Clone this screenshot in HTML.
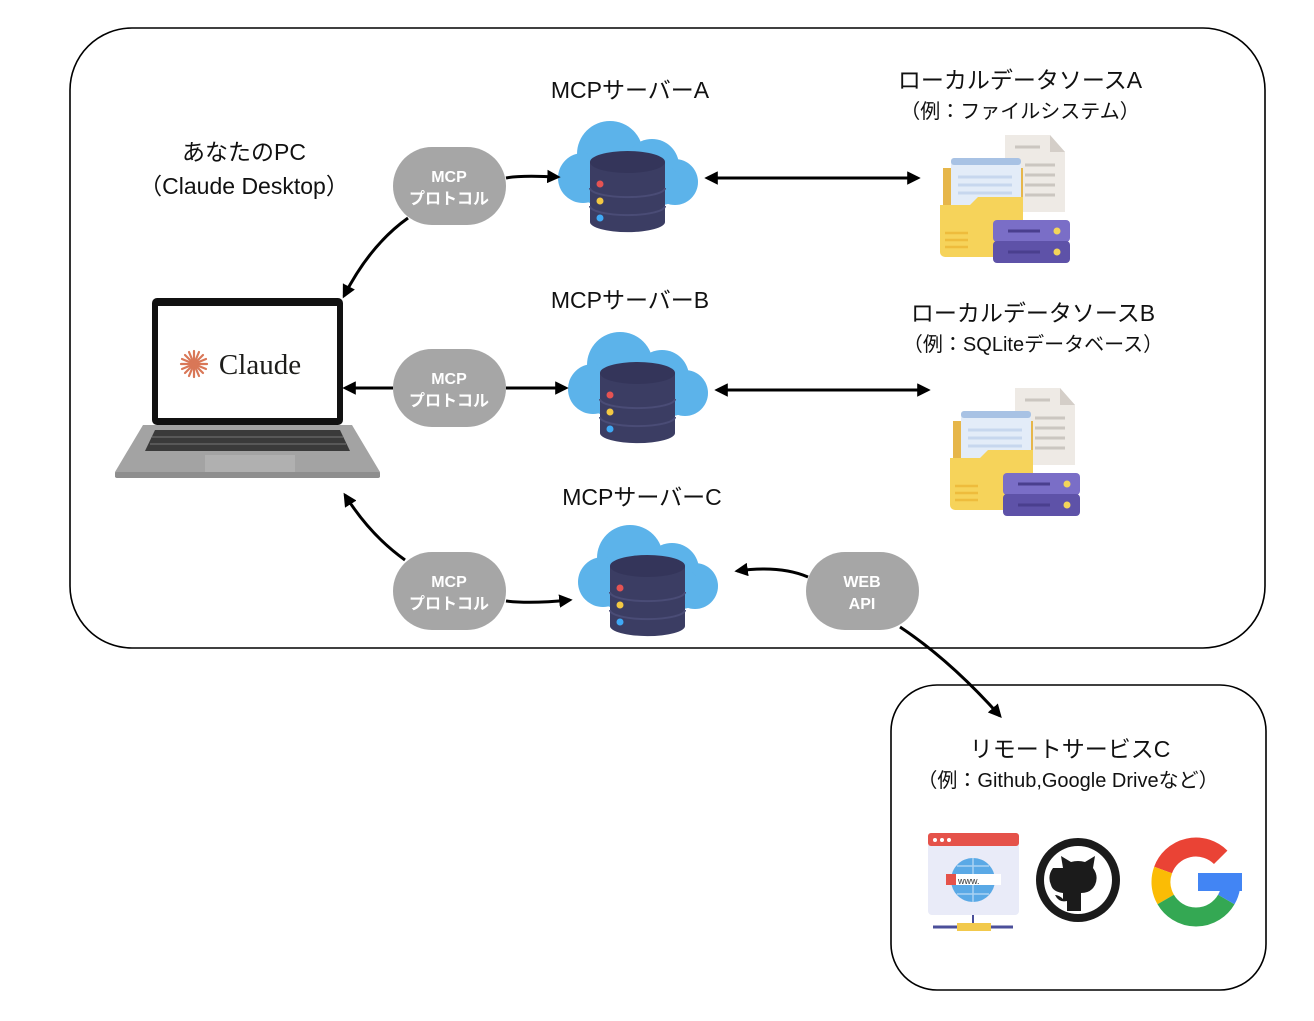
<!DOCTYPE html>
<html><head><meta charset="utf-8"><style>
body{margin:0;background:#fff}
text{font-family:"Liberation Sans","Noto Sans CJK JP",sans-serif}
</style></head><body>
<svg width="1314" height="1016" viewBox="0 0 1314 1016" xmlns="http://www.w3.org/2000/svg">
<defs>
<marker id="ah" viewBox="0 0 10 10" refX="8" refY="5" markerWidth="4.5" markerHeight="4.5" orient="auto-start-reverse"><path d="M0,0 L10,5 L0,10 z" fill="#000"/></marker>
<g id="srv">
<g fill="#5cb3ea">
<circle cx="52" cy="34" r="33"/><circle cx="94" cy="46" r="27"/><circle cx="25" cy="58" r="25"/><circle cx="117" cy="62" r="23"/><rect x="22" y="45" width="100" height="40" rx="18"/>
</g>
<path d="M32,42 v60 a37,10 0 0 0 75,0 v-60 z" fill="#3b3d63"/>
<ellipse cx="69.5" cy="42" rx="37.5" ry="11" fill="#34355a"/>
<path d="M32,68 a37,9 0 0 0 75,0 M32,86 a37,9 0 0 0 75,0" stroke="#4a4c76" stroke-width="2" fill="none"/>
<circle cx="42" cy="64" r="3.5" fill="#e55353"/><circle cx="42" cy="81" r="3.5" fill="#f3c843"/><circle cx="42" cy="98" r="3.5" fill="#3fa9f5"/>
</g>
<g id="fil">
<path d="M65,0 h45 l15,17 v60 h-60 z" fill="#eeeae5"/>
<path d="M110,0 l15,17 h-15 z" fill="#d4cec8"/>
<g stroke="#cbc6c0" stroke-width="3"><line x1="75" y1="12" x2="100" y2="12"/><line x1="85" y1="30" x2="115" y2="30"/><line x1="85" y1="40" x2="115" y2="40"/><line x1="85" y1="50" x2="115" y2="50"/><line x1="85" y1="60" x2="115" y2="60"/></g>
<rect x="3" y="33" width="80" height="50" fill="#e6b64a"/>
<rect x="11" y="23" width="70" height="55" rx="4" fill="#e3ecf8"/>
<rect x="11" y="23" width="70" height="7" rx="3" fill="#a8c2e4"/>
<g stroke="#c7d7ee" stroke-width="3"><line x1="18" y1="42" x2="72" y2="42"/><line x1="18" y1="50" x2="72" y2="50"/><line x1="18" y1="58" x2="72" y2="58"/></g>
<path d="M0,70 h30 l8,-8 h45 v55 a5,5 0 0 1 -5,5 h-73 a5,5 0 0 1 -5,-5 z" fill="#f6d35a"/>
<g stroke="#eebc3c" stroke-width="2.5"><line x1="5" y1="98" x2="28" y2="98"/><line x1="5" y1="105" x2="28" y2="105"/><line x1="5" y1="112" x2="28" y2="112"/></g>
<rect x="53" y="85" width="77" height="22" rx="4" fill="#7a6ec7"/>
<rect x="53" y="106" width="77" height="22" rx="4" fill="#5e52a8"/>
<g stroke="#4a3f8e" stroke-width="3"><line x1="68" y1="96" x2="100" y2="96"/><line x1="68" y1="117" x2="100" y2="117"/></g>
<circle cx="117" cy="96" r="3.5" fill="#f3d55a"/><circle cx="117" cy="117" r="3.5" fill="#f3d55a"/>
</g>
</defs>

<rect x="70" y="28" width="1195" height="620" rx="62" fill="none" stroke="#000" stroke-width="1.6"/>
<rect x="891" y="685" width="375" height="305" rx="46" fill="none" stroke="#000" stroke-width="1.6"/>

<g font-size="23" fill="#111" text-anchor="middle">
<text x="630" y="98">MCPサーバーA</text>
<text x="630" y="308">MCPサーバーB</text>
<text x="642" y="505">MCPサーバーC</text>
<text x="1020" y="88">ローカルデータソースA</text>
<text x="1033" y="321">ローカルデータソースB</text>
<text x="244" y="160">あなたのPC</text>
<text x="244" y="194">（Claude Desktop）</text>
<text x="1070" y="757">リモートサービスC</text>
</g>
<g font-size="20" fill="#111" text-anchor="middle">
<text x="1020" y="118">（例：ファイルシステム）</text>
<text x="1033" y="351">（例：SQLiteデータベース）</text>
<text x="1068" y="787">（例：Github,Google Driveなど）</text>
</g>

<use href="#srv" x="558" y="120"/>
<use href="#srv" x="568" y="331"/>
<use href="#srv" x="578" y="524"/>
<use href="#fil" x="940" y="135"/>
<use href="#fil" x="950" y="388"/>

<!-- laptop -->
<path d="M143,425 h209 l28,47 v5 h-265 v-5 z" fill="#a3a3a3"/>
<rect x="115" y="472" width="265" height="6" rx="2" fill="#8e8e8e"/>
<path d="M155,430 h185 l10,21 h-205 z" fill="#3a3a3a"/>
<g stroke="#777" stroke-width="1"><line x1="152" y1="437" x2="343" y2="437"/><line x1="150" y1="444" x2="346" y2="444"/></g>
<rect x="205" y="455" width="90" height="17" fill="#b0b0b0"/>
<rect x="152" y="298" width="191" height="127" rx="5" fill="#111"/>
<rect x="158" y="306" width="179" height="112" fill="#fff"/>
<g stroke="#d97757" stroke-width="2.2" stroke-linecap="round">
<line x1="194" y1="351" x2="194" y2="377"/><line x1="181" y1="364" x2="207" y2="364"/>
<line x1="185" y1="355" x2="203" y2="373"/><line x1="185" y1="373" x2="203" y2="355"/>
<line x1="189" y1="352" x2="199" y2="376"/><line x1="182" y1="359" x2="206" y2="369"/>
<line x1="182" y1="369" x2="206" y2="359"/><line x1="189" y1="376" x2="199" y2="352"/>
</g>
<text x="260" y="374" font-size="29" fill="#1d1d1b" text-anchor="middle" style="font-family:'Liberation Serif',serif">Claude</text>

<g fill="#a6a6a6">
<rect x="393" y="147" width="113" height="78" rx="39"/>
<rect x="393" y="349" width="113" height="78" rx="39"/>
<rect x="393" y="552" width="113" height="78" rx="39"/>
<rect x="806" y="552" width="113" height="78" rx="39"/>
</g>
<g fill="#fff" font-size="16" font-weight="bold" text-anchor="middle">
<text x="449" y="182">MCP</text><text x="449" y="204">プロトコル</text>
<text x="449" y="384">MCP</text><text x="449" y="406">プロトコル</text>
<text x="449" y="587">MCP</text><text x="449" y="609">プロトコル</text>
<text x="862" y="587">WEB</text><text x="862" y="609">API</text>
</g>

<g stroke="#000" stroke-width="3" fill="none" marker-end="url(#ah)">
<path d="M506,178 Q520,175 558,177"/>
<path d="M408,218 Q370,245 344,296"/>
<path d="M707,178 L918,178" marker-start="url(#ah)"/>
<path d="M393,388 L345,388"/>
<path d="M506,388 L566,388"/>
<path d="M717,390 L928,390" marker-start="url(#ah)"/>
<path d="M405,560 Q370,535 345,495"/>
<path d="M506,601 Q530,604 570,600"/>
<path d="M808,577 Q780,565 737,571"/>
<path d="M900,627 Q950,660 1000,716"/>
</g>

<g>
<rect x="928" y="833" width="91" height="82" rx="4" fill="#e9ebf8"/>
<rect x="928" y="833" width="91" height="13" rx="3" fill="#e5524a"/>
<circle cx="935" cy="840" r="2" fill="#fff"/><circle cx="942" cy="840" r="2" fill="#fff"/><circle cx="949" cy="840" r="2" fill="#fff"/>
<circle cx="973" cy="880" r="22" fill="#5aa9e6"/>
<path d="M951,880 h44 M973,858 v44 M957,866 h32 M957,894 h32" stroke="#a9d3f3" stroke-width="1.5"/>
<rect x="946" y="874" width="55" height="11" fill="#fff"/>
<rect x="946" y="874" width="10" height="11" fill="#e5524a"/>
<text x="958" y="884" font-size="9" fill="#333">www.</text>
<line x1="973" y1="915" x2="973" y2="925" stroke="#4b4f9a" stroke-width="2"/>
<line x1="933" y1="927" x2="1013" y2="927" stroke="#4b4f9a" stroke-width="3"/>
<rect x="957" y="923" width="34" height="8" fill="#f2c94c"/>
<circle cx="1078" cy="880" r="42" fill="#1b1b1b"/>
<circle cx="1078" cy="880" r="34" fill="#fff"/>
<path d="M1063,868 l-2,-12 l10,6 q7,-2 14,0 l10,-6 l-2,12 q6,8 2,17 q-4,8 -14,8 v18 h-14 v-10 q-8,2 -12,-6 q4,0 8,4 v-6 q-10,-1 -12,-8 q-4,-9 2,-17 z" fill="#1b1b1b"/>
<g fill="none" stroke-width="19">
<path d="M1220.7,857.3 A35,35 0 0 0 1163.1,870" stroke="#ea4335"/>
<path d="M1163.1,870 A35,35 0 0 0 1165.7,899.5" stroke="#fbbc05"/>
<path d="M1165.7,899.5 A35,35 0 0 0 1226.3,899.5" stroke="#34a853"/>
<path d="M1226.3,899.5 A35,35 0 0 0 1231,882" stroke="#4285f4"/>
</g>
<rect x="1198" y="873" width="44" height="18" fill="#4285f4"/>
</g>
</svg>
</body></html>
